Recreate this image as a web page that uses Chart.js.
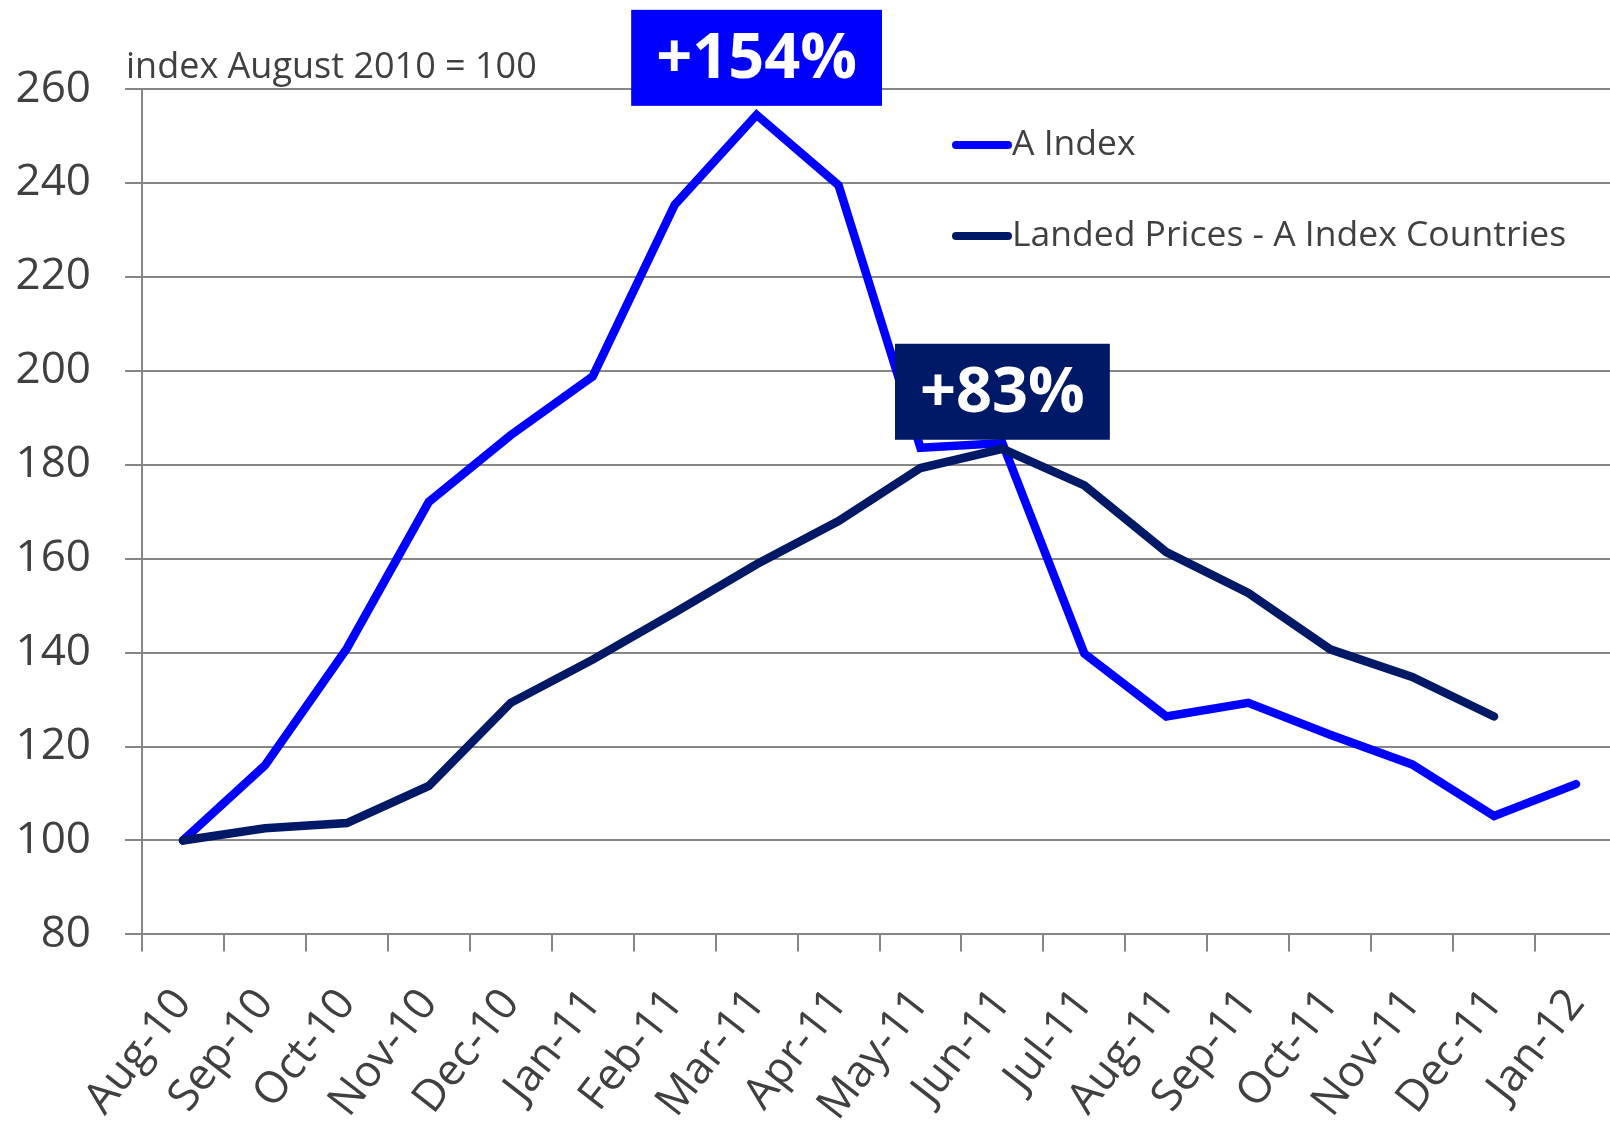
<!DOCTYPE html>
<html>
<head>
<meta charset="utf-8">
<script src="https://cdn.jsdelivr.net/npm/chart.js@4.4.1/dist/chart.umd.min.js"></script>
<style>
  html, body { margin: 0; padding: 0; background: #fff; overflow: hidden; }
  #wrap { width: 1640px; height: 1125px; }
</style>
</head>
<body>
<div id="wrap"><canvas id="chartIndex" width="1640" height="1125"></canvas></div>
<script>
// ------------- DATOS
const months = ['Aug-10', 'Sep-10', 'Oct-10', 'Nov-10', 'Dec-10', 'Jan-11', 'Feb-11', 'Mar-11', 'Apr-11',
  'May-11', 'Jun-11', 'Jul-11', 'Aug-11', 'Sep-11', 'Oct-11', 'Nov-11', 'Dec-11', 'Jan-12'];
const aIndex = [100, 116, 140.9, 172.1, 186.3, 198.8, 235.3, 254.5, 239.5,
  183.6, 184.6, 139.8, 126.4, 129.3, 122.5, 116.2, 105.2, 112];
const landedPrices = [100, 102.6, 103.7, 111.6, 129.3, 138.5, 148.5, 158.8, 168,
  179.3, 183.4, 175.6, 161.4, 152.7, 140.7, 134.8, 126.4, null];
const yTicks = [80, 100, 120, 140, 160, 180, 200, 220, 240, 260];
const seriesNames = ['A Index', 'Landed Prices - A Index Countries'];
const subtitle = 'index August 2010 = 100';
// etiquetas de cambio (texto, dataset, mes)
const callouts = [
  { text: '+154%', dataset: 0, month: 'Mar-11' },
  { text: '+83%', dataset: 1, month: 'Jun-11' }
];

const BLUE = '#0000ff';
const NAVY = '#001966';
const GRID = '#868686';
const TXT = '#404040';
const FONT = "'Open Sans', 'Noto Sans', sans-serif";

// ---------- TEXTO SUPERIOR + LEYENDA + ETIQUETAS
const extrasPlugin = {
  id: 'extras',
  afterDatasetsDraw(chart) {
    const ctx = chart.ctx;
    const area = chart.chartArea;
    ctx.save();
    // subtitulo
    ctx.font = '36px ' + FONT;
    ctx.fillStyle = TXT;
    ctx.textAlign = 'left';
    ctx.textBaseline = 'alphabetic';
    ctx.fillText(subtitle, 126, area.top - 11);

    // leyenda
    const colors = [BLUE, NAVY];
    const rows = [145, 236];
    ctx.lineCap = 'round';
    ctx.lineWidth = 8;
    for (let i = 0; i < seriesNames.length; i++) {
      ctx.strokeStyle = colors[i];
      ctx.beginPath();
      ctx.moveTo(956, rows[i]);
      ctx.lineTo(1008, rows[i]);
      ctx.stroke();
      ctx.fillStyle = TXT;
      ctx.textBaseline = 'middle';
      ctx.font = '35.5px ' + FONT;
      ctx.fillText(seriesNames[i], 1012, rows[i]);
    }

    // cajas de porcentaje
    ctx.font = 'bold 63px ' + FONT;
    callouts.forEach(function (c) {
      const meta = chart.getDatasetMeta(c.dataset);
      const idx = months.indexOf(c.month);
      const pt = meta.data[idx];
      const w = ctx.measureText(c.text).width + 50;
      const h = 96;
      const bottom = pt.y - 9;
      ctx.fillStyle = colors[c.dataset];
      ctx.fillRect(pt.x - w / 2, bottom - h, w, h);
      ctx.fillStyle = '#ffffff';
      ctx.textAlign = 'center';
      ctx.textBaseline = 'middle';
      ctx.fillText(c.text, pt.x, bottom - h / 2 + 2);
    });
    ctx.restore();
  }
};

const ctx = document.getElementById('chartIndex').getContext('2d');
const myChartIndex = new Chart(ctx, {
  type: 'line',
  data: {
    labels: months,
    datasets: [{
      label: seriesNames[0],
      data: aIndex,
      borderColor: BLUE,
      backgroundColor: BLUE,
      borderWidth: 8.5,
      pointRadius: 0,
      tension: 0,
      borderCapStyle: 'round',
      borderJoinStyle: 'miter',
      order: 1
    }, {
      label: seriesNames[1],
      data: landedPrices,
      borderColor: NAVY,
      backgroundColor: NAVY,
      borderWidth: 8.5,
      pointRadius: 0,
      tension: 0,
      borderCapStyle: 'round',
      borderJoinStyle: 'miter',
      order: 0
    }]
  },
  options: {
    responsive: false,
    animation: false,
    layout: { padding: { top: 89, right: 23, left: 0, bottom: 0 } },
    plugins: {
      legend: { display: false },
      tooltip: { enabled: false }
    },
    scales: {
      x: {
        type: 'category',
        offset: true,
        afterFit: function (scale) {
          scale.height = 190.6;
          scale.paddingLeft = 0;
          scale.paddingRight = 0;
        },
        grid: {
          offset: true,
          drawOnChartArea: false,
          drawTicks: true,
          tickLength: 17,
          color: GRID,
          lineWidth: 2
        },
        border: { display: true, color: GRID, width: 2 },
        ticks: {
          autoSkip: false,
          maxRotation: 52,
          minRotation: 52,
          padding: 28,
          color: TXT,
          font: { family: FONT, size: 44 }
        }
      },
      y: {
        min: 80,
        max: 260,
        afterFit: function (scale) { scale.width = 142; },
        afterBuildTicks: function (scale) {
          scale.ticks = yTicks.map(function (v) { return { value: v }; });
        },
        grid: {
          color: GRID,
          lineWidth: 2,
          tickLength: 17
        },
        border: { display: true, color: GRID, width: 2 },
        ticks: {
          padding: 34,
          color: TXT,
          font: { family: FONT, size: 44 }
        }
      }
    }
  },
  plugins: [extrasPlugin]
});
</script>
</body>
</html>
